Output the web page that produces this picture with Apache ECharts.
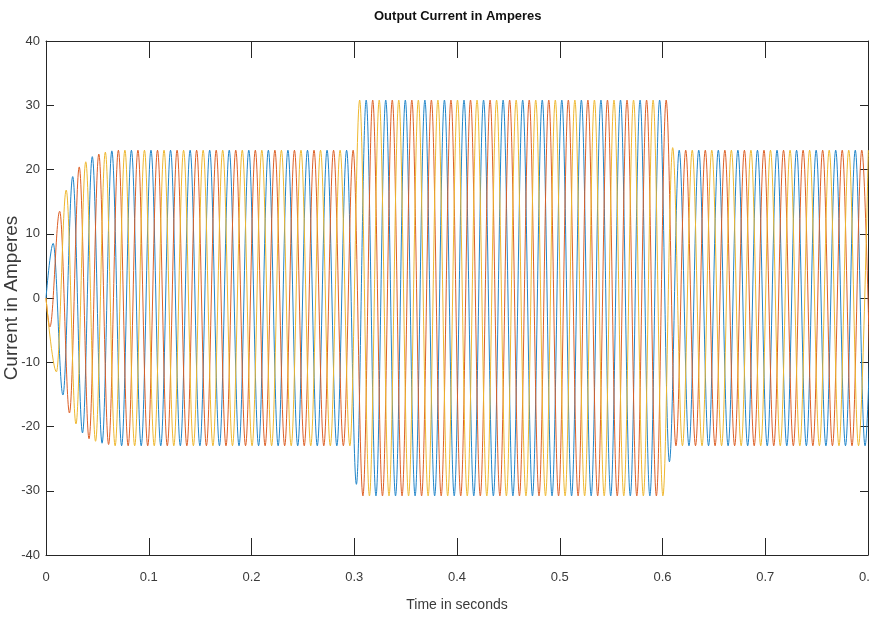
<!DOCTYPE html>
<html>
<head>
<meta charset="utf-8">
<script src="https://cdn.jsdelivr.net/npm/echarts@6/dist/echarts.min.js"></script>
<style>
  html, body { margin: 0; padding: 0; background: #fff; }
  #chart { width: 869px; height: 619px; }
</style>
</head>
<body>
<div id="chart"></div>
<script>
// === DATA ===
// three phase currents, plotted in MATLAB default colours
const phaseNames = ['Phase A', 'Phase B', 'Phase C'];
const phaseColors = ['#1f84c8', '#dc5f26', '#eeb72e'];

// every extremum of the three phases falls on a common grid:
// first one (orange trough) at firstExtremumTime, then one every period/6
const firstExtremumTime = 0.0038;
const periodSec = 0.01904;
// index (on that grid) of the first extremum of each phase: blue, orange, yellow
const phaseFirstIndex = [1, 0, 2];

// start-up: magnitudes of the first extrema, in time order
const startupPeaks = [4.5, 8.5, 11.5, 13.5, 15.1, 16.8, 17.9, 18.9, 19.6, 20.4,
                      21.0, 21.2, 21.9, 22.0, 22.3, 22.4, 22.6, 22.7, 22.8, 22.9];

// steady amplitude of each load section and where the sections change
const sectionLevels = [23.0, 30.8, 23.0];
const sectionStarts = [0, 0.3005, 0.605];

// extrema caught in the middle of a load change (grid index -> magnitude)
const transitionIndex = [94, 190, 191];
const transitionPeaks = [29.0, 25.5, 23.4];

const xTicks = { min: 0, max: 0.8, step: 0.1 };
const yTicks = { min: -40, max: 40, step: 10 };

// === BUILD SERIES ===
function magnitudeAt(j, t) {
    const k = transitionIndex.indexOf(j);
    if (k >= 0) return transitionPeaks[k];
    if (j < startupPeaks.length) return startupPeaks[j];
    let level = sectionLevels[0];
    sectionStarts.forEach((s, i) => { if (t >= s) level = sectionLevels[i]; });
    return level;
}

function phaseData(p) {
    const step = periodSec / 6;
    const pts = [[0, 0]];
    for (let j = phaseFirstIndex[p]; ; j += 3) {
        const t = firstExtremumTime + j * step;
        const sign = (j % 2 === 1) ? 1 : -1;
        pts.push([t, sign * magnitudeAt(j, t)]);
        if (t > xTicks.max) break;
    }
    return pts;
}

// === RENDER ===
const chart = echarts.init(document.getElementById('chart'));

const axisCol = '#262626';
const textCol = '#3a3a3a';
const labelFont = '"Liberation Sans", Arial, sans-serif';

function xAxisDef(pos, withLabel) {
    return {
        type: 'value', position: pos,
        min: xTicks.min, max: xTicks.max, interval: xTicks.step,
        axisLine: { show: true, onZero: false, lineStyle: { color: axisCol, width: 1 } },
        axisTick: { show: true, inside: true, length: 17, lineStyle: { color: axisCol } },
        axisLabel: { show: withLabel, color: textCol, fontSize: 13, fontFamily: labelFont, margin: 16 },
        splitLine: { show: false },
        name: withLabel ? 'Time in seconds' : '',
        nameLocation: 'middle', nameGap: 43, nameMoveOverlap: false,
        nameTextStyle: { color: textCol, fontSize: 14, fontFamily: labelFont, verticalAlign: 'top' }
    };
}

function yAxisDef(pos, withLabel) {
    return {
        type: 'value', position: pos,
        min: yTicks.min, max: yTicks.max, interval: yTicks.step,
        axisLine: { show: true, onZero: false, lineStyle: { color: axisCol, width: 1 } },
        axisTick: { show: true, inside: true, length: 8, lineStyle: { color: axisCol } },
        axisLabel: { show: withLabel, color: textCol, fontSize: 13, fontFamily: labelFont, margin: 6 },
        splitLine: { show: false },
        name: withLabel ? 'Current in Amperes' : '',
        nameLocation: 'middle', nameRotate: 90, nameGap: 25, nameMoveOverlap: false,
        nameTextStyle: { color: textCol, fontSize: 19, fontFamily: labelFont }
    };
}

const option = {
    animation: false,
    backgroundColor: '#fff',
    title: {
        text: 'Output Current in Amperes',
        left: 369, top: 5,
        textStyle: { fontSize: 13, fontWeight: 'bold', color: '#111', fontFamily: labelFont }
    },
    grid: { left: 46, right: 1, top: 41, bottom: 64, containLabel: false, outerBoundsMode: 'none' },
    xAxis: [xAxisDef('bottom', true), xAxisDef('top', false)],
    yAxis: [yAxisDef('left', true), yAxisDef('right', false)],
    series: phaseNames.map((name, p) => ({
        name: name,
        type: 'line',
        xAxisIndex: 0, yAxisIndex: 0,
        data: phaseData(p),
        showSymbol: false,
        smooth: 0.36,
        smoothMonotone: 'x',
        clip: true,
        lineStyle: { color: phaseColors[p], width: 1 }
    }))
};

chart.setOption(option);
</script>
</body>
</html>
